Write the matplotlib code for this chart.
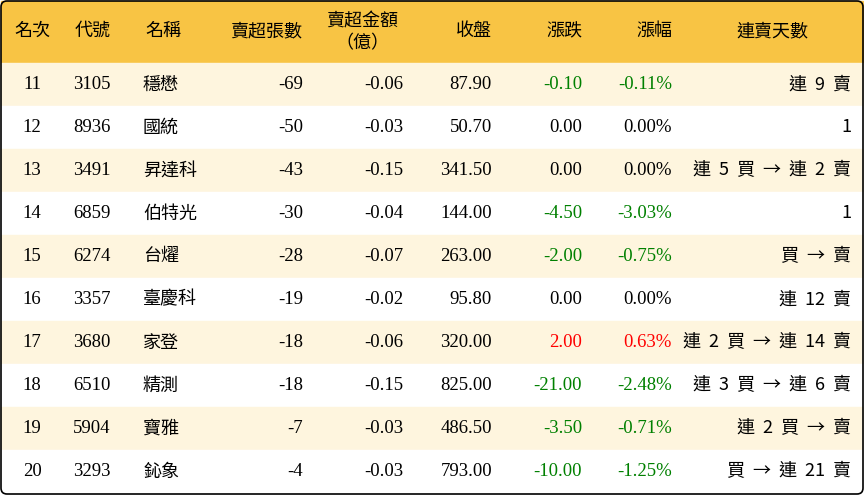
import matplotlib
matplotlib.use("Agg")
import matplotlib.pyplot as plt
from matplotlib.patches import Rectangle, FancyBboxPatch

ranks = [11,12,13,14,15,16,17,18,19,20]
codes = ["3105","8936","3491","6859","6274","3357","3680","6510","5904","3293"]
names = ["穩懋","國統","昇達科","伯特光","台燿","臺慶科","家登","精測","寶雅","鈊象"]
net_sell = [-69,-50,-43,-30,-28,-19,-18,-18,-7,-4]
amount = [-0.06,-0.03,-0.15,-0.04,-0.07,-0.02,-0.06,-0.15,-0.03,-0.03]
close = [87.90,50.70,341.50,144.00,263.00,95.80,320.00,825.00,486.50,793.00]
change = [-0.10,0.00,0.00,-4.50,-2.00,0.00,2.00,-21.00,-3.50,-10.00]
pct = [-0.11,0.00,0.00,-3.03,-0.75,0.00,0.63,-2.48,-0.71,-1.25]
streak = ["連 9 賣","1","連 5 買 → 連 2 賣","1","買 → 賣","連 12 賣",
          "連 2 買 → 連 14 賣","連 3 買 → 連 6 賣","連 2 買 → 賣","買 → 連 21 賣"]

W, H = 864, 496
fig = plt.figure(figsize=(W/100, H/100), dpi=100)
ax = fig.add_axes([0,0,1,1])
ax.set_xlim(0, W); ax.set_ylim(H, 0); ax.axis("off")

cjk = "Noto Sans CJK TC"
num = "Liberation Serif"
fs = 13
hdr_h, row_h = 63, 43

ax.add_patch(Rectangle((1, 1), W-2, hdr_h, color="#F8C444", zorder=0))
for i in range(len(ranks)):
    y0 = hdr_h + i*row_h
    c = "#FEF5DE" if i % 2 == 0 else "white"
    ax.add_patch(Rectangle((1, y0), W-2, row_h, color=c, zorder=0))
ax.add_patch(FancyBboxPatch((1, 1), W-2, H-3, boxstyle="round,pad=0,rounding_size=6",
                            fill=False, ec="black", lw=1.2, zorder=5))

hy = 31
ax.text(32, hy, "名次", ha="center", va="center", fontfamily=cjk, fontsize=fs)
ax.text(93, hy, "代號", ha="center", va="center", fontfamily=cjk, fontsize=fs)
ax.text(163, hy, "名稱", ha="center", va="center", fontfamily=cjk, fontsize=fs)
ax.text(302, hy, "賣超張數", ha="right", va="center", fontfamily=cjk, fontsize=fs)
ax.text(362, 21, "賣超金額", ha="center", va="center", fontfamily=cjk, fontsize=fs)
ax.text(362, 43, "（億）", ha="center", va="center", fontfamily=cjk, fontsize=fs)
ax.text(492, hy, "收盤", ha="right", va="center", fontfamily=cjk, fontsize=fs)
ax.text(582, hy, "漲跌", ha="right", va="center", fontfamily=cjk, fontsize=fs)
ax.text(672, hy, "漲幅", ha="right", va="center", fontfamily=cjk, fontsize=fs)
ax.text(772, hy, "連賣天數", ha="center", va="center", fontfamily=cjk, fontsize=fs)

def col(v):
    return "#008000" if v < 0 else ("#FF0000" if v > 0 else "black")

nfs = 13.5
for i in range(len(ranks)):
    y = hdr_h + i*row_h + row_h/2
    ax.text(32, y, str(ranks[i]), ha="center", va="center", fontfamily=num, fontsize=nfs)
    ax.text(73, y, codes[i], ha="left", va="center", fontfamily=num, fontsize=nfs)
    ax.text(143, y, names[i], ha="left", va="center", fontfamily=cjk, fontsize=fs)
    ax.text(303, y, f"{net_sell[i]}", ha="right", va="center", fontfamily=num, fontsize=nfs)
    ax.text(403, y, f"{amount[i]:.2f}", ha="right", va="center", fontfamily=num, fontsize=nfs)
    ax.text(492, y, f"{close[i]:.2f}", ha="right", va="center", fontfamily=num, fontsize=nfs)
    ax.text(582, y, f"{change[i]:.2f}", ha="right", va="center", fontfamily=num, fontsize=nfs, color=col(change[i]))
    ax.text(672, y, f"{pct[i]:.2f}%", ha="right", va="center", fontfamily=num, fontsize=nfs, color=col(pct[i]))
    ax.text(851, y, streak[i].replace(" ", "  "), ha="right", va="center", fontfamily=cjk, fontsize=fs)

fig.savefig("out.png", dpi=100)
